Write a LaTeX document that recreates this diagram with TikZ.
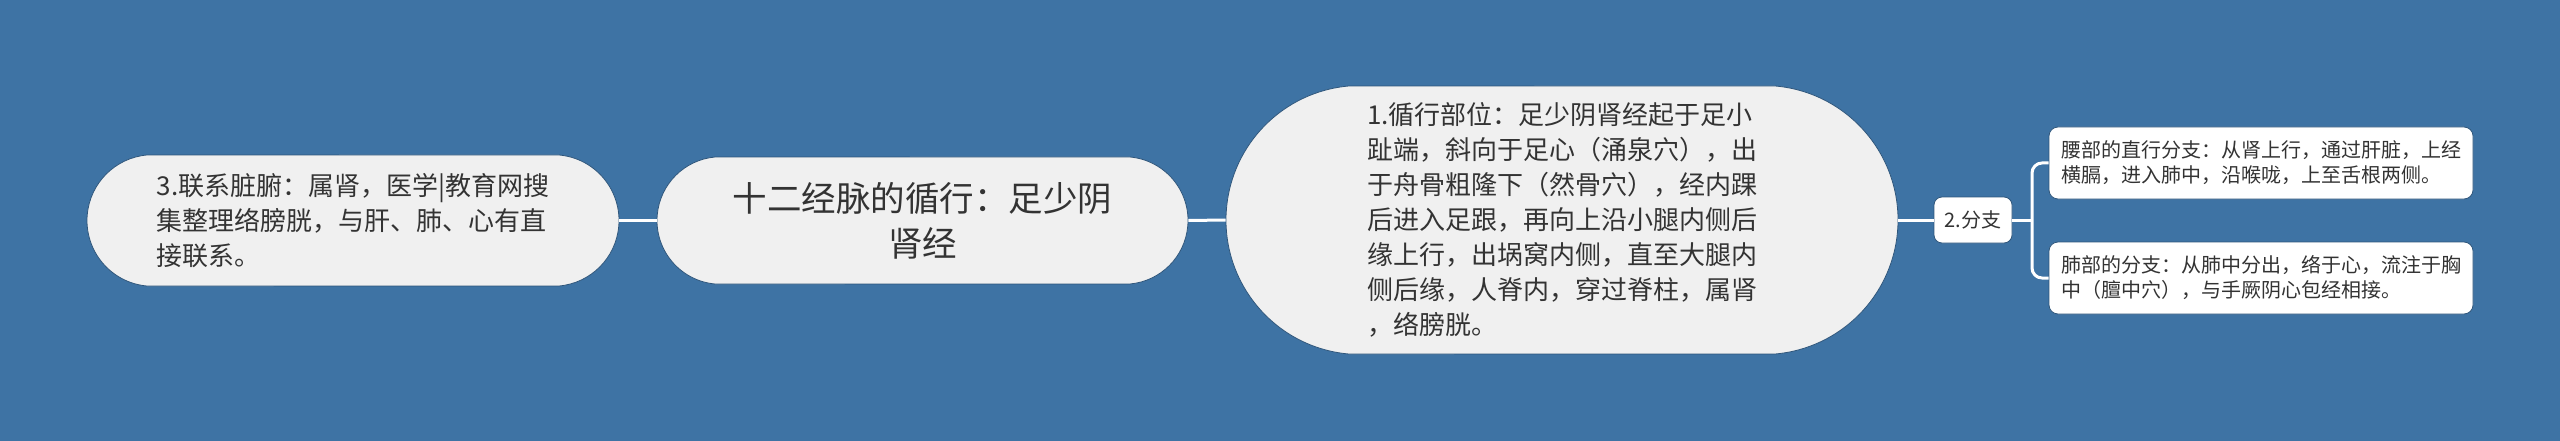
\documentclass[tikz,border=0pt]{standalone}
\usepackage{fontspec}
\setmainfont{Noto Sans CJK SC}
\usetikzlibrary{shapes.misc}

\definecolor{bgblue}{HTML}{3E73A4}
\definecolor{nodegray}{HTML}{F0F0F0}
\definecolor{textgray}{HTML}{333333}

\begin{document}
\begin{tikzpicture}[x=1pt, y=-1pt,
    bubble/.style={rounded rectangle, rounded rectangle arc length=170, fill=nodegray,
        draw=bgblue!75!black, line width=0.8pt, text=textgray, inner sep=0pt},
    leaf/.style={rectangle, rounded corners=9pt, fill=white, draw=bgblue!75!black,
        line width=0.8pt, text=textgray, inner sep=0pt, align=left},
    bodytext/.style={font=\fontsize{26}{35}\selectfont, align=left},
    leaftext/.style={font=\fontsize{20}{25}\selectfont},
    link/.style={draw=white, line width=3pt}]

    \fill[bgblue] (0,0) rectangle (2560,441);
    \useasboundingbox (0,0) rectangle (2560,441);

    % root in the middle
    \node[bubble, minimum width=531, minimum height=127, align=center,
        font=\fontsize{34.5}{45}\selectfont] (root) at (922.5,220.5)
        {十二经脉的循行：足少阴\\肾经};

    \node[bubble, bodytext, minimum width=532, minimum height=131] (link3) at (353,220.5)
        {3.联系脏腑：属肾，医学|教育网搜\\集整理络膀胱，与肝、肺、心有直\\接联系。};

    \node[bubble, bodytext, minimum width=672, minimum height=268] (route1) at (1562,220)
        {1.循行部位：足少阴肾经起于足小\\趾端，斜向于足心（涌泉穴），出\\于舟骨粗隆下（然骨穴），经内踝\\后进入足跟，再向上沿小腿内侧后\\缘上行，出埚窝内侧，直至大腿内\\侧后缘，人脊内，穿过脊柱，属肾\\，络膀胱。};

    \node[leaf, rounded corners=8pt, leaftext, minimum width=78, minimum height=46] (branch2) at (1973,220)
        {2.分支};

    \node[leaf, leaftext, minimum width=424, minimum height=72] (waist) at (2261,163)
        {腰部的直行分支：从肾上行，通过肝脏，上经\\横膈，进入肺中，沿喉咙，上至舌根两侧。};
    \node[leaf, leaftext, minimum width=424, minimum height=72] (lung) at (2261,278)
        {肺部的分支：从肺中分出，络于心，流注于胸\\中（膻中穴），与手厥阴心包经相接。};

    \coordinate (fork) at (2032,220);

    \draw[link] (link3.east) -- (root.west);
    \draw[link] (root.east) -- (route1.west);
    \draw[link] (route1.east) -- (branch2.west);
    \draw[link] (branch2.east) -- (fork);
    \draw[link, rounded corners=10pt] (waist.west) -| (fork) |- (lung.west);
\end{tikzpicture}
\end{document}
